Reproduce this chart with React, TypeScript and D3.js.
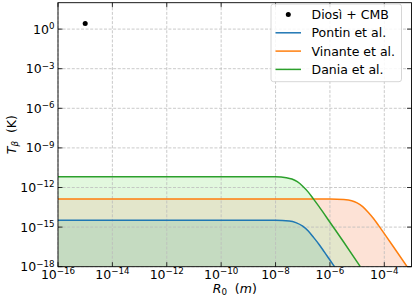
import React from "react";
import * as d3 from "d3";

// ---- data ----
const pontinR = [1e-16, 1e-8, 3.2e-8, 5.6e-8, 1e-7, 1.6e-7, 2.5e-7, 4e-7, 6.3e-7, 1e-6, 1.48e-6];
const pontinT = [3.31e-15, 3.24e-15, 2.88e-15, 2.19e-15, 1.17e-15, 5.0e-16, 1.66e-16, 4.8e-17, 1.26e-17, 3.2e-18, 1e-18];

const vinanteR = [1e-16, 1e-6, 3.2e-6, 6.3e-6, 1e-5, 1.6e-5, 2.5e-5, 4e-5, 6.3e-5, 1e-4, 2.5e-4, 6.9e-4];
const vinanteT = [1.35e-13, 1.35e-13, 1.23e-13, 1.0e-13, 6.9e-14, 3.6e-14, 1.41e-14, 4.5e-15, 1.23e-15, 3.2e-16, 2.1e-17, 1e-18];

const daniaR = [1e-16, 1e-9, 1e-8, 2.5e-8, 4e-8, 6.3e-8, 1e-7, 1.6e-7, 2.5e-7, 4e-7, 1e-6, 3.2e-6, 1.32e-5];
const daniaT = [6.61e-12, 6.61e-12, 6.46e-12, 5.5e-12, 4.37e-12, 2.75e-12, 1.26e-12, 4.47e-13, 1.32e-13, 3.55e-14, 2.34e-15, 7.41e-17, 1e-18];

const diosiR = [1e-15];
const diosiT = [2.7];

const xTickExps = [-16, -14, -12, -10, -8, -6, -4];
const yTickExps = [0, -3, -6, -9, -12, -15, -18];

const legendLabels = ["Diosì + CMB", "Pontin et al.", "Vinante et al.", "Dania et al."];

// ---- layout ----
const W = 415, H = 301;
const L = 58, R = 411.5, T = 2.7, B = 266.7;
const FONT = "DejaVu Sans, sans-serif";

const C_BLUE = "#1f77b4", C_ORANGE = "#ff7f0e", C_GREEN = "#2ca02c";

export default function App() {
  const x = d3.scaleLog().domain([1e-16, 1e-3]).range([L, R]);
  const y = d3.scaleLog().domain([1e-18, 1e2]).range([B, T]);

  const pts = (rs: number[], ts: number[]) => rs.map((r, i) => [r, ts[i]] as [number, number]);
  const line = d3.line<[number, number]>().x(d => x(d[0])).y(d => y(d[1])).curve(d3.curveMonotoneX);
  const area = d3.area<[number, number]>().x(d => x(d[0])).y0(y(1e-18)).y1(d => y(d[1])).curve(d3.curveMonotoneX);

  const pP = pts(pontinR, pontinT);
  const vP = pts(vinanteR, vinanteT);
  const dP = pts(daniaR, daniaT);

  const sup = (e: number) => (e < 0 ? "\u2212" + Math.abs(e) : String(e));

  return (
    <svg width={W} height={H} style={{ position: "absolute", left: 0, top: 0, background: "#fff" }} fontFamily={FONT}>
      <defs>
        <clipPath id="plotclip">
          <rect x={L} y={T} width={R - L} height={B - T} />
        </clipPath>
        <clipPath id="orangeclip">
          <path d={area(vP) || ""} />
        </clipPath>
      </defs>
      <rect x={0} y={0} width={W} height={H} fill="#fff" />
      <g clipPath="url(#plotclip)">
        <path d={area(vP) || ""} fill="#fde2d6" />
        <path d={area(dP) || ""} fill="#e2f8de" />
        <g clipPath="url(#orangeclip)">
          <path d={area(dP) || ""} fill="#e3e6cb" />
        </g>
        <path d={area(pP) || ""} fill="#c5dbc1" />
      </g>
      {/* grid */}
      <g stroke="#bdbdbd" strokeWidth={0.8} strokeDasharray="3,1.6">
        {xTickExps.map(e => (
          <line key={"gx" + e} x1={x(Math.pow(10, e))} x2={x(Math.pow(10, e))} y1={T} y2={B} />
        ))}
        {yTickExps.map(e => (
          <line key={"gy" + e} x1={L} x2={R} y1={y(Math.pow(10, e))} y2={y(Math.pow(10, e))} />
        ))}
      </g>
      {/* lines */}
      <g clipPath="url(#plotclip)" fill="none" strokeWidth={1.5}>
        <path d={line(pP) || ""} stroke={C_BLUE} />
        <path d={line(vP) || ""} stroke={C_ORANGE} />
        <path d={line(dP) || ""} stroke={C_GREEN} />
      </g>
      {diosiR.map((r, i) => (
        <circle key={"d" + i} cx={x(r)} cy={y(diosiT[i])} r={2.5} fill="#000" />
      ))}
      {/* ticks */}
      <g stroke="#000" strokeWidth={0.8}>
        {xTickExps.map(e => {
          const px = x(Math.pow(10, e));
          return (
            <g key={"tx" + e}>
              <line x1={px} x2={px} y1={B} y2={B - 4.5} />
              <line x1={px} x2={px} y1={T} y2={T + 4.5} />
            </g>
          );
        })}
        {yTickExps.map(e => {
          const py = y(Math.pow(10, e));
          return (
            <g key={"ty" + e}>
              <line x1={L} x2={L + 4.5} y1={py} y2={py} />
              <line x1={R} x2={R - 4.5} y1={py} y2={py} />
            </g>
          );
        })}
      </g>
      <rect x={L} y={T} width={R - L} height={B - T} fill="none" stroke="#000" strokeWidth={0.9} />
      {/* tick labels */}
      <g fontSize={12.5} fill="#000">
        {xTickExps.map(e => (
          <text key={"lx" + e} x={x(Math.pow(10, e))} y={279} textAnchor="middle">
            10<tspan dy={-4.6} fontSize={8.7}>{sup(e)}</tspan>
          </text>
        ))}
        {yTickExps.map(e => (
          <text key={"ly" + e} x={54.5} y={y(Math.pow(10, e)) + 4.5} textAnchor="end">
            10<tspan dy={-4.6} fontSize={8.7}>{sup(e)}</tspan>
          </text>
        ))}
      </g>
      {/* axis labels */}
      <text x={(L + R) / 2} y={293} textAnchor="middle" fontSize={12.5}>
        <tspan fontStyle="italic">R</tspan>
        <tspan fontSize={8.7} dy={2}>0</tspan>
        <tspan dy={-2}>{"\u00a0\u00a0("}</tspan>
        <tspan fontStyle="italic">m</tspan>
        <tspan>)</tspan>
      </text>
      <text transform={`translate(16,${(T + B) / 2}) rotate(-90)`} textAnchor="middle" fontSize={12.5}>
        <tspan fontStyle="italic">T</tspan>
        <tspan fontSize={8.7} fontStyle="italic" dy={2}>β</tspan>
        <tspan dy={-2}>{"\u00a0\u00a0(K)"}</tspan>
      </text>
      {/* legend */}
      <g>
        <rect x={271} y={4} width={130.5} height={77.7} rx={2.5} fill="#fff" fillOpacity={0.85} stroke="#cccccc" strokeWidth={0.8} />
        {legendLabels.map((lab, i) => {
          const by = 19 + i * 18.3;
          const cy = by - 4.5;
          return (
            <g key={"lg" + i}>
              {i === 0 ? (
                <circle cx={288.3} cy={cy} r={2.5} fill="#000" />
              ) : (
                <line x1={275.5} x2={301} y1={cy} y2={cy} strokeWidth={1.5} stroke={[C_BLUE, C_ORANGE, C_GREEN][i - 1]} />
              )}
              <text x={311.5} y={by} fontSize={12.5}>{lab}</text>
            </g>
          );
        })}
      </g>
    </svg>
  );
}
